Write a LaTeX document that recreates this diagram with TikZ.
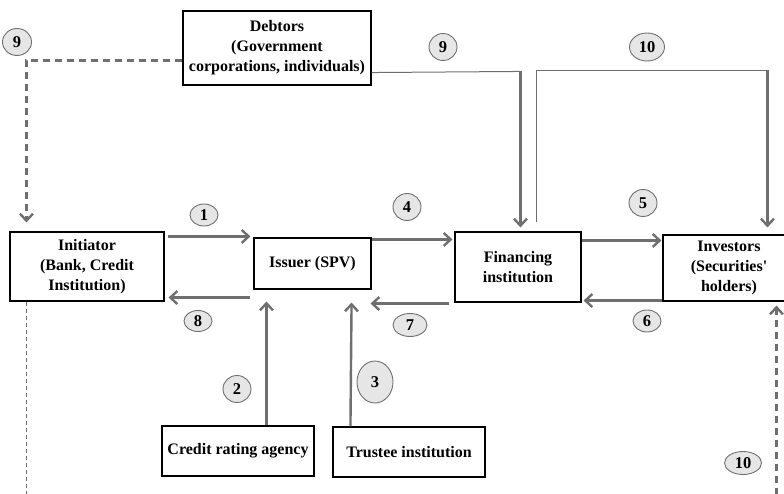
\documentclass[tikz,border=0pt]{standalone}
\usepackage{fontspec}
\setmainfont{Liberation Serif}
\usetikzlibrary{arrows.meta,calc,shapes.geometric}
\definecolor{ln}{HTML}{6F6F6F}
\definecolor{cf}{HTML}{E6E6E6}
\begin{document}
\begin{tikzpicture}[x=1pt,y=-1pt,
  box/.style={draw=black,line width=1.1pt,fill=white,rectangle,align=center,inner sep=0pt,font=\fontsize{16}{20}\selectfont\bfseries},
  num/.style={draw=ln,line width=0.9pt,fill=cf,ellipse,inner sep=0pt,font=\fontsize{16.5}{16}\selectfont\bfseries},
  arr/.style={draw=ln,line width=2.4pt,-{Straight Barb[length=7pt,width=13pt]}},
  thinln/.style={draw=ln,line width=1pt},
  dasharr/.style={draw=ln,line width=2.4pt,dash pattern=on 7pt off 5pt,-{Straight Barb[length=7pt,width=13pt]}},
  thindash/.style={draw=ln,line width=0.8pt,dash pattern=on 4pt off 3pt}]
\useasboundingbox (0,0) rectangle (784,494);

% boxes
\node[box,minimum width=188pt,minimum height=74pt] (deb) at (277,48) {Debtors\\(Government\\corporations, individuals)};
\node[box,minimum width=154pt,minimum height=69pt] (init) at (87,266.5) {Initiator\\(Bank, Credit\\Institution)};
\node[box,minimum width=117pt,minimum height=51pt] (iss) at (312.5,263.5) {Issuer (SPV)};
\node[box,minimum width=126pt,minimum height=70pt] (fin) at (518,267) {Financing\\institution};
\node[box,minimum width=132pt,minimum height=66pt] (inv) at (729,268) {Investors\\(Securities\textquotesingle\\holders)};
\node[box,minimum width=152pt,minimum height=50pt] (cra) at (238,451) {Credit rating agency};
\node[box,minimum width=152pt,minimum height=50pt] (tru) at (409,452) {Trustee institution};

% number bubbles
\node[num,minimum width=29pt,minimum height=27pt] (n9a) at (17,42) {9};
\node[num,minimum width=28pt,minimum height=27pt] (n9b) at (443,47) {9};
\node[num,minimum width=35pt,minimum height=28pt] (n10a) at (647,47) {10};
\node[num,minimum width=28pt,minimum height=22pt] (n1) at (204,215) {1};
\node[num,minimum width=28pt,minimum height=27pt] (n4) at (407,207) {4};
\node[num,minimum width=28pt,minimum height=27pt] (n5) at (643,203) {5};
\node[num,minimum width=28pt,minimum height=21pt] (n8) at (198,321) {8};
\node[num,minimum width=34pt,minimum height=23pt] (n7) at (410,325) {7};
\node[num,minimum width=28pt,minimum height=22pt] (n6) at (647,321) {6};
\node[num,minimum width=28pt,minimum height=27pt] (n2) at (237,389) {2};
\node[num,minimum width=36pt,minimum height=42pt] (n3) at (375,382) {3};
\node[num,minimum width=37pt,minimum height=23pt] (n10b) at (743,463) {10};

% horizontal flows
\draw[arr] ($(init.north east)+(3,5)$) -- ($(iss.north west)+(-3,-1)$);
\draw[arr] ($(iss.south west)+(-3,8)$) -- ($(init.south east)+(4,-4)$);
\draw[arr] ($(iss.north east)+(0,2)$) -- ($(fin.north west)+(-2,8)$);
\draw[arr] ($(fin.south west)+(-5,1)$) -- ($(iss.south east)+(-1,14)$);
\draw[arr] ($(fin.north east)+(0,9)$) -- ($(inv.north west)+(-1,6)$);
\draw[arr] ($(inv.south west)+(0,-1)$) -- ($(fin.south east)+(2,-2)$);

% vertical flows from below
\draw[arr] ($(cra.north west)+(105,0)$) -- ($(iss.south west)+(13,12)$);
\draw[arr] ($(tru.north west)+(18,0)$) -- ($(iss.south east)+(-20,13)$);

% flow 9 (debtors to financing institution)
\coordinate (c9) at ($(fin.north west)+(66,-160)$);
\draw[thinln] ($(deb.south east)+(0,-13)$) -- (c9);
\draw[arr] (c9) -- ($(fin.north west)+(66,-4)$);

% flow 10 (financing institution to investors)
\coordinate (c10a) at ($(fin.north west)+(82,-161)$);
\coordinate (c10b) at ($(inv.north west)+(105,-164)$);
\draw[thinln] ($(fin.north west)+(82,-9)$) -- (c10a) -- (c10b);
\draw[arr] (c10b) -- ($(inv.north west)+(105,-7)$);

% dashed flow 9 (debtors to initiator)
\coordinate (d9) at ($(init.north west)+(17,-171)$);
\draw[dasharr] ($(deb.north west)+(0,50)$) -- (d9) -- ($(init.north west)+(17,-9)$);

% thin dashed line below initiator
\coordinate (dbot) at ($(init.south west)+(17,193)$);
\draw[thindash] ($(init.south west)+(17,0)$) -- (dbot);

% dashed flow 10 (from below to investors)
\coordinate (d10) at ($(inv.south west)+(114,193)$);
\draw[dasharr] (d10) -- ($(inv.south west)+(114,4)$);
\end{tikzpicture}
\end{document}
